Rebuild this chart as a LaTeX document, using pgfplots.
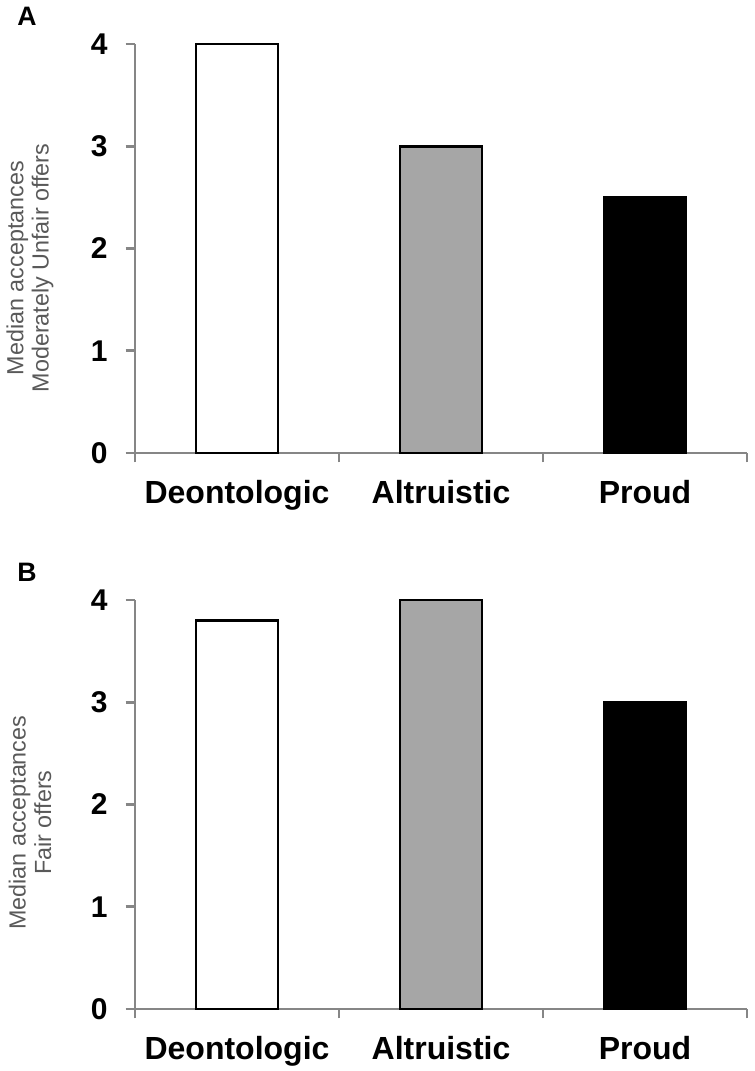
\documentclass[border=0pt]{standalone}
\usepackage{fontspec}
\setmainfont{Liberation Sans}
\usepackage{pgfplots}
\pgfplotsset{compat=1.18}
\definecolor{axisgray}{HTML}{868686}
\definecolor{labgray}{HTML}{595959}
\definecolor{bargray}{HTML}{A6A6A6}

% one reference pixel = 0.75pt
\pgfplotsset{
  panel/.style={
    scale only axis, anchor=origin,
    width=459pt, height=306.75pt,
    xmin=0, xmax=3, ymin=0, ymax=4,
    clip=false,
    axis x line=bottom, axis y line=left,
    axis line style={-, axisgray, line width=2.1pt},
    /pgf/number format/assume math mode=true,
    tick align=outside,
    major tick length=7pt,
    tick style={axisgray, line width=2.1pt},
    ytick={0,1,2,3,4},
    xtick={0,1,2,3},
    xticklabels={},
    extra x ticks={0.5,1.5,2.5},
    extra x tick labels={Deontologic,Altruistic,Proud},
    extra x tick style={major tick length=0pt,
      xticklabel style={font=\bfseries\fontsize{24}{26}\selectfont, text=black, yshift=-17pt}},
    yticklabel style={font=\bfseries\fontsize{22.5}{24}\selectfont, text=black, xshift=-10pt},
  },
  bars/.style={ybar, bar shift=0pt, bar width=61.5pt, draw=black, line width=2.1pt},
}

\begin{document}
\begin{tikzpicture}
\path[use as bounding box] (0,0) rectangle (565.5pt,-803.25pt);

% Panel A
\node[anchor=north west, font=\bfseries\fontsize{20}{20}\selectfont, inner sep=0pt] at (12.75pt,-5.25pt) {A};
\node[rotate=90, align=center, text=labgray, font=\fontsize{17.5}{19}\selectfont]
  at (22.5pt,-201pt) {Median acceptances\\Moderately Unfair offers};
\begin{axis}[panel, at={(101.25pt,-339.75pt)}]
\addplot[bars, fill=white] coordinates {(0.5,4)};
\addplot[bars, fill=bargray] coordinates {(1.5,3)};
\addplot[bars, fill=black] coordinates {(2.5,2.5)};
\end{axis}

% Panel B
\node[anchor=north west, font=\bfseries\fontsize{20}{20}\selectfont, inner sep=0pt] at (12.75pt,-422.25pt) {B};
\node[rotate=90, align=center, text=labgray, font=\fontsize{17.5}{19}\selectfont]
  at (22.5pt,-617pt) {Median acceptances\\Fair offers};
\begin{axis}[panel, at={(101.25pt,-756.75pt)}]
\addplot[bars, fill=white] coordinates {(0.5,3.8)};
\addplot[bars, fill=bargray] coordinates {(1.5,4)};
\addplot[bars, fill=black] coordinates {(2.5,3)};
\end{axis}
\end{tikzpicture}
\end{document}
